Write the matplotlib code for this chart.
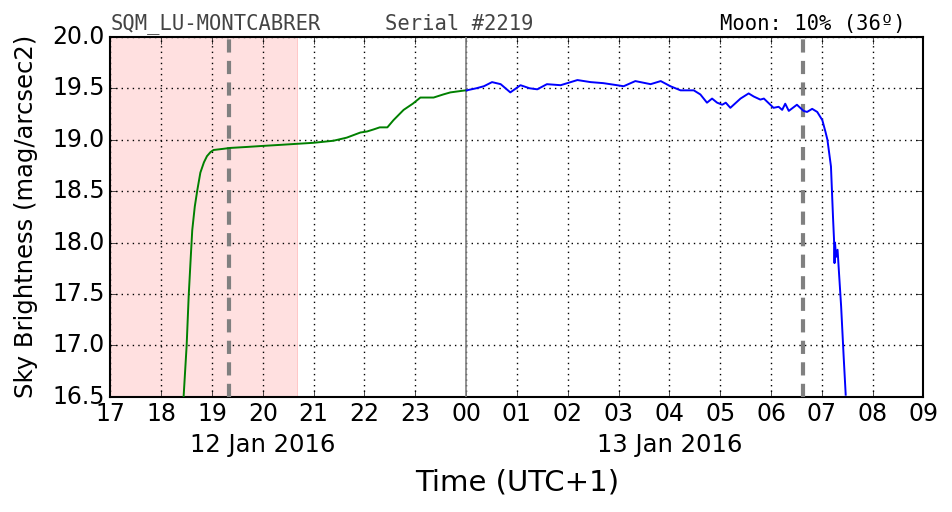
import matplotlib
matplotlib.use("Agg")
import matplotlib.pyplot as plt

# green: evening (before midnight), hours since 12 Jan 00:00
green_t = [18.44, 18.50, 18.54, 18.58, 18.61, 18.66, 18.71, 18.77, 18.84, 18.90, 18.97, 19.03, 19.20,
           19.36, 19.70, 20.01, 20.35, 20.67, 21.00, 21.39, 21.65, 21.92, 22.05, 22.18, 22.30, 22.45,
           22.57, 22.77, 22.95, 23.10, 23.36, 23.55, 23.69, 23.99]
green_v = [16.50, 17.00, 17.48, 17.85, 18.12, 18.35, 18.51, 18.68, 18.78, 18.84, 18.88, 18.90, 18.91,
           18.92, 18.93, 18.94, 18.95, 18.96, 18.97, 18.99, 19.02, 19.07, 19.08, 19.10, 19.12, 19.12,
           19.19, 19.29, 19.35, 19.41, 19.41, 19.44, 19.46, 19.48]

# blue: after midnight
blue_t = [24.01, 24.20, 24.35, 24.51, 24.68, 24.87, 25.07, 25.25, 25.40, 25.59, 25.86, 26.19, 26.45,
          26.70, 26.97, 27.10, 27.33, 27.63, 27.83, 28.02, 28.22, 28.48, 28.61, 28.74, 28.84, 28.94,
          29.04, 29.11, 29.20, 29.40, 29.56, 29.66, 29.79, 29.86, 30.05, 30.15, 30.22, 30.28, 30.35,
          30.51, 30.64, 30.71, 30.81, 30.91, 31.01, 31.07, 31.11, 31.18, 31.22, 31.24, 31.25, 31.26,
          31.28, 31.31, 31.33, 31.38, 31.43, 31.47]
blue_v = [19.48, 19.50, 19.52, 19.56, 19.54, 19.46, 19.53, 19.50, 19.49, 19.54, 19.53, 19.58, 19.56,
          19.55, 19.53, 19.52, 19.57, 19.54, 19.57, 19.52, 19.48, 19.48, 19.44, 19.36, 19.40, 19.36,
          19.34, 19.36, 19.31, 19.40, 19.45, 19.42, 19.39, 19.40, 19.31, 19.32, 19.29, 19.35, 19.28,
          19.34, 19.28, 19.27, 19.30, 19.27, 19.19, 19.08, 19.00, 18.74, 18.25, 18.03, 17.80, 18.00,
          17.86, 17.93, 17.77, 17.38, 16.89, 16.52]

hour_ticks = list(range(17, 34))
hour_labels = ["%02d" % (h % 24) for h in hour_ticks]
date_labels = ["12 Jan 2016", "13 Jan 2016"]
date_pos = [20.0, 28.0]

twilight_end = 20.70
sun_lines = [19.34, 30.62]

plt.style.use("classic")
fig = plt.figure(figsize=(9.52, 5.12), dpi=100)
fig.patch.set_facecolor("white")
ax = fig.add_axes([0.116, 0.225, 0.854, 0.703])

ax.axvspan(17, twilight_end, color="#ffe0e0", alpha=1, lw=0, zorder=0)
ax.axvspan(twilight_end - 0.02, twilight_end, color="#ffc8c8", lw=0, zorder=0)
for s in sun_lines:
    ax.axvline(s, color="gray", lw=3, ls="--", dashes=(9.5, 6), zorder=3)
ax.axvline(24, color="gray", lw=1.2, zorder=3)

ax.plot(green_t, green_v, color="green", lw=1.4, zorder=4)
ax.plot(blue_t, blue_v, color="blue", lw=1.4, zorder=4)

ax.set_xlim(17, 33)
ax.set_ylim(16.5, 20.0)
ax.set_xticks(hour_ticks)
ax.set_xticklabels(hour_labels)
ax.set_yticks([16.5, 17.0, 17.5, 18.0, 18.5, 19.0, 19.5, 20.0])
ax.set_yticklabels(["16.5", "17.0", "17.5", "18.0", "18.5", "19.0", "19.5", "20.0"])
ax.tick_params(labelsize=17, direction="in", length=5, top=True, right=True)
ax.grid(True, color="black", ls=":", lw=1)
ax.set_axisbelow(False)
for sp in ax.spines.values():
    sp.set_linewidth(1.5)

for p, d in zip(date_pos, date_labels):
    ax.text(p, -0.133, d, transform=ax.get_xaxis_transform(), ha="center", va="center", fontsize=17.5)

ax.set_ylabel("Sky Brightness (mag/arcsec2)", fontsize=17.5, labelpad=10)
ax.set_xlabel("Time (UTC+1)", fontsize=21, labelpad=30)

ax.text(0.0, 1.008, "SQM_LU-MONTCABRER", transform=ax.transAxes, family="DejaVu Sans Mono",
        fontsize=14.8, color="#444444", ha="left", va="bottom")
ax.text(0.338, 1.008, "Serial #2219", transform=ax.transAxes, family="DejaVu Sans Mono",
        fontsize=14.8, color="#444444", ha="left", va="bottom")
ax.text(0.978, 1.008, "Moon: 10% (36º)", transform=ax.transAxes, family="DejaVu Sans Mono",
        fontsize=14.8, color="black", ha="right", va="bottom")

fig.savefig("out.png", dpi=100, facecolor="white")
